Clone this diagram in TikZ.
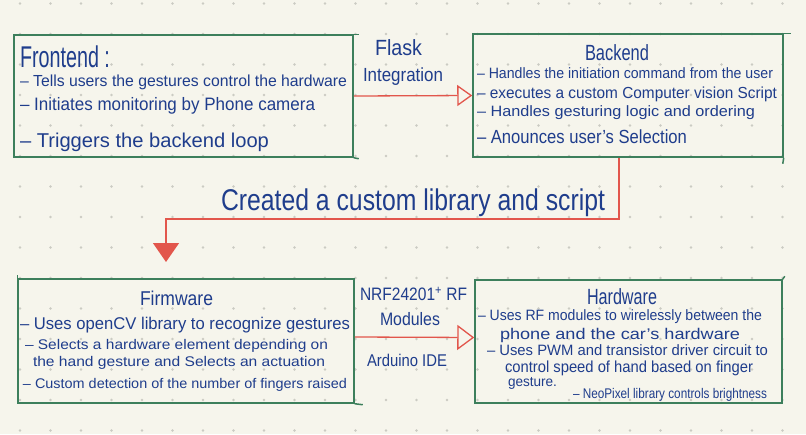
\documentclass[tikz,border=0pt]{standalone}
\usepackage{fontspec}
\setmainfont{Liberation Sans}
\usepackage{graphicx}
\usetikzlibrary{arrows.meta}
\definecolor{bgc}{HTML}{F6F5EC}
\definecolor{dotc}{HTML}{CBCBC3}
\definecolor{inkc}{HTML}{1F3D8C}
\definecolor{boxc}{HTML}{3D7F5C}
\definecolor{redc}{HTML}{E2564C}
\newcommand\hw[3]{\resizebox{#2pt}{\height}{\fontsize{#1pt}{#1pt}\selectfont #3}}
\tikzset{
  box/.style={draw=boxc, line width=1.5pt, rectangle, inner sep=0pt},
  overshoot/.style={draw=boxc, line width=1.5pt},
  txt/.style={inner sep=0pt, outer sep=0pt, text=inkc, anchor=west},
  redline/.style={draw=redc, line width=1.3pt},
}
\begin{document}
\begin{tikzpicture}[x=1pt, y=-1pt]
\fill[bgc] (0,0) rectangle (806,434);
\useasboundingbox (0,0) rectangle (806,434);
\foreach \i in {0,...,25}{
  \foreach \j in {0,...,14}{
    \fill[dotc] ({20+30.5*\i},{3.5+30.5*\j}) circle (1.3pt);
  }
}
% boxes
\node[box, minimum width=339pt, minimum height=122pt] (front) at (183.5,96) {};
\node[box, minimum width=310pt, minimum height=123pt] (back) at (628,95.5) {};
\node[box, minimum width=336pt, minimum height=124pt] (firm) at (186,341) {};
\node[box, minimum width=307pt, minimum height=123pt] (hard) at (628.5,341.5) {};
% hand-drawn overshoots of the box sides
\draw[overshoot] (front.north east) -- ++(5,0);
\draw[overshoot] (front.south east) -- ++(5,1);
\draw[overshoot] (back.north east) -- ++(7,0);
\draw[overshoot] (back.south east) -- ++(-1,6);
\draw[overshoot] (firm.south east) -- ++(8,1);
\draw[overshoot] (firm.north west) -- ++(0,-3);
\draw[overshoot] (hard.north east) -- ++(2,-3);
% frontend text
\node[txt] (ft0) at (20,57) {\hw{30}{90}{Frontend :}};
\node[txt] (ft1) at (20,82) {\hw{16}{327}{– Tells users the gestures control the hardware}};
\node[txt] (ft2) at (20,106) {\hw{18}{295}{– Initiates monitoring by Phone camera}};
\node[txt] (ft3) at (20,142) {\hw{20}{249}{– Triggers the backend loop}};
% backend text
\node[txt] (bt0) at (585,53) {\hw{22}{64}{Backend}};
\node[txt] (bt1) at (477,73) {\hw{15}{296}{– Handles the initiation command from the user}};
\node[txt] (bt2) at (477,94) {\hw{16}{300}{– executes a custom Computer vision Script}};
\node[txt] (bt3) at (477,113) {\hw{15}{278}{– Handles gesturing logic and ordering}};
\node[txt] (bt4) at (477,137) {\hw{19}{210}{– Anounces user's Selection}};
% flask label
\node[txt] (fl0) at (375,48) {\hw{22}{47}{Flask}};
\node[txt] (fl1) at (363,77) {\hw{19}{80}{Integration}};
% middle label
\node[txt] (mid) at (221,203) {\hw{30}{384}{Created a custom library and script}};
% firmware text
\node[txt] (wt0) at (140,298) {\hw{20}{73}{Firmware}};
\node[txt] (wt1) at (20,325) {\hw{17}{330}{– Uses openCV library to recognize gestures}};
\node[txt] (wt2) at (25,346) {\hw{14}{303}{– Selects a hardware element depending on}};
\node[txt] (wt3) at (33,363) {\hw{14}{292}{the hand gesture and Selects an actuation}};
\node[txt] (wt4) at (23,385) {\hw{14}{324}{– Custom detection of the number of fingers raised}};
% rf label
\node[txt] (rf0) at (360,294) {\hw{18}{107}{NRF24201\textsuperscript{+} RF}};
\node[txt] (rf1) at (380,319) {\hw{18}{60}{Modules}};
\node[txt] (rf2) at (367,360) {\hw{17}{80}{Arduino IDE}};
% hardware text
\node[txt] (ht0) at (587,297) {\hw{22}{70}{Hardware}};
\node[txt] (ht1) at (478,317) {\hw{15}{284}{– Uses RF modules to wirelessly between the}};
\node[txt] (ht2) at (500,335) {\hw{15.5}{240}{phone and the car's hardware}};
\node[txt] (ht3) at (487,350) {\hw{15}{281}{– Uses PWM and transistor driver circuit to}};
\node[txt] (ht4) at (505,368) {\hw{16}{248}{control speed of hand based on finger}};
\node[txt] (ht5) at (508,383) {\hw{14}{49}{gesture.}};
\node[txt] (ht6) at (573,395) {\hw{14}{194}{– NeoPixel library controls brightness}};
% connectors
\coordinate (elbow) at (166,219);
\coordinate (tip) at (166,262);
\draw[redline, -{Triangle[open, length=15pt, width=21pt]}] (front.east) -- (back.west);
\draw[redline, -{Triangle[length=19pt, width=26pt]}] ([xshift=-9pt]back.south) |- (elbow) -- (tip);
\draw[redline, -{Triangle[open, length=17pt, width=25pt]}] ([yshift=4pt]firm.east) -- ([yshift=4pt]hard.west);
\end{tikzpicture}
\end{document}
